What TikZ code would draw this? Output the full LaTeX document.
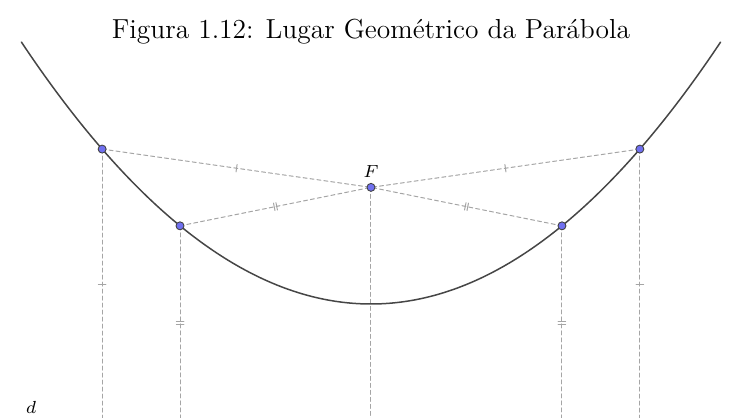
\documentclass[tikz,border=0pt]{standalone}
\usetikzlibrary{decorations.markings}
\definecolor{guidegray}{RGB}{165,165,165}
\definecolor{curvegray}{RGB}{70,70,70}
\definecolor{ptblue}{RGB}{112,112,240}
\begin{document}
\begin{tikzpicture}[line cap=round,line join=round,
  guide/.style={draw=guidegray,line width=0.4pt,dash pattern=on 1.6pt off 1.2pt},
  onetick/.style={postaction={decorate},decoration={markings,
    mark=at position 0.5 with {\draw[guidegray,solid,line width=0.4pt] (0,-1.5pt) -- (0,1.5pt);}}},
  twotick/.style={postaction={decorate},decoration={markings,
    mark=at position 0.5 with {\draw[guidegray,solid,line width=0.4pt] (-0.5pt,-1.5pt) -- (-0.5pt,1.5pt)
      (0.5pt,-1.5pt) -- (0.5pt,1.5pt);}}},
  ppoint/.style={fill=ptblue,draw=black!75,line width=0.35pt}]
  \useasboundingbox (-5.216,-1.589) rectangle (5.385,4.274);
  % focus, directrix and points of the parabola y = x^2/6.56
  \coordinate (F) at (0,1.64);
  \coordinate (D) at (0,-1.64);
  \coordinate (P1) at (-3.78,2.178);
  \coordinate (P2) at (-2.685,1.099);
  \coordinate (P3) at (2.685,1.099);
  \coordinate (P4) at (3.78,2.178);
  \coordinate (D1) at (P1 |- D);
  \coordinate (D2) at (P2 |- D);
  \coordinate (D3) at (P3 |- D);
  \coordinate (D4) at (P4 |- D);
  \node[font=\fontsize{11}{13.6}\selectfont] (title) at (0,3.83) {Figura 1.12: Lugar Geom\'etrico da Par\'abola};
  % distances to the focus
  \draw[guide,onetick] (P1) -- (F);
  \draw[guide,onetick] (P4) -- (F);
  \draw[guide,twotick] (P2) -- (F);
  \draw[guide,twotick] (P3) -- (F);
  % distances to the directrix
  \draw[guide] (F) -- (D);
  \draw[guide,onetick] (P1) -- (D1);
  \draw[guide,onetick] (P4) -- (D4);
  \draw[guide,twotick] (P2) -- (D2);
  \draw[guide,twotick] (P3) -- (D3);
  \draw[curvegray,line width=0.6pt] plot[domain=-4.915:4.915,samples=90,smooth] (\x,{\x*\x/6.56});
  \foreach \p in {P1,P2,P3,P4,F}
    \draw[ppoint] (\p) circle (1.6pt);
  \node[above=0.5pt,font=\scriptsize] (Flab) at (F) {$F$};
  \node[font=\scriptsize] (dlab) at (-4.78,-1.448) {$d$};
\end{tikzpicture}
\end{document}
